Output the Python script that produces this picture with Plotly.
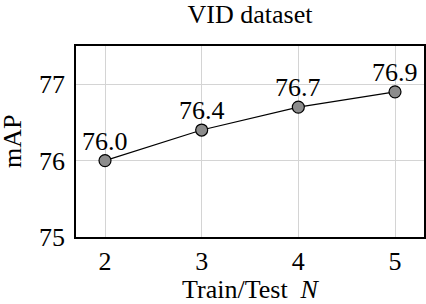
import plotly.graph_objects as go

n_values = [2, 3, 4, 5]
map_values = [76.0, 76.4, 76.7, 76.9]
point_labels = ["76.0", "76.4", "76.7", "76.9"]

font_family = "Liberation Serif"
fs = 26

fig = go.Figure()
fig.add_trace(go.Scatter(
    x=n_values, y=map_values,
    mode="lines+markers",
    line=dict(color="black", width=1.2),
    marker=dict(size=12, color="#8c8c8c", line=dict(color="black", width=1.2)),
    cliponaxis=False,
    showlegend=False,
    hoverinfo="skip",
))

for xv, yv, lab in zip(n_values, map_values, point_labels):
    fig.add_annotation(
        x=xv, y=yv, text=lab, showarrow=False,
        xanchor="center", yanchor="bottom", yshift=3,
        font=dict(family=font_family, size=fs, color="black"),
    )

# y-axis title placed at the left edge, as in the reference
fig.add_annotation(
    xref="paper", yref="paper", x=0, y=0.5, xshift=-80,
    xanchor="left", yanchor="middle", textangle=-90,
    text="mAP", showarrow=False,
    font=dict(family=font_family, size=fs, color="black"),
)

fig.update_layout(
    width=426, height=304,
    margin=dict(l=76, r=2, t=46, b=67, autoexpand=False),
    paper_bgcolor="white", plot_bgcolor="white",
    font=dict(family=font_family, size=fs, color="black"),
    title=dict(text="VID dataset", x=0.587, xanchor="center", y=0.955, yanchor="middle",
               font=dict(family=font_family, size=fs, color="black")),
)
fig.update_xaxes(
    range=[1.7, 5.3], tickvals=n_values, ticktext=[str(v) for v in n_values],
    showgrid=True, gridcolor="#d4d4d4", gridwidth=1,
    showline=True, linecolor="black", linewidth=1.5, mirror=True,
    zeroline=False, ticks="",
    title=dict(text="Train/Test  <i>N</i>", font=dict(family=font_family, size=fs), standoff=10),
    tickfont=dict(family=font_family, size=fs),
)
fig.update_yaxes(
    range=[75, 77.5], tickvals=[75, 76, 77], ticktext=["75", "76", "77"],
    showgrid=True, gridcolor="#d4d4d4", gridwidth=1,
    showline=True, linecolor="black", linewidth=1.5, mirror=True,
    zeroline=False, ticks="", ticklabelstandoff=4,
    tickfont=dict(family=font_family, size=fs),
)

fig.write_html("out.html", config={"displayModeBar": False},
               post_script="document.body.style.margin='0';document.body.style.padding='0';")
